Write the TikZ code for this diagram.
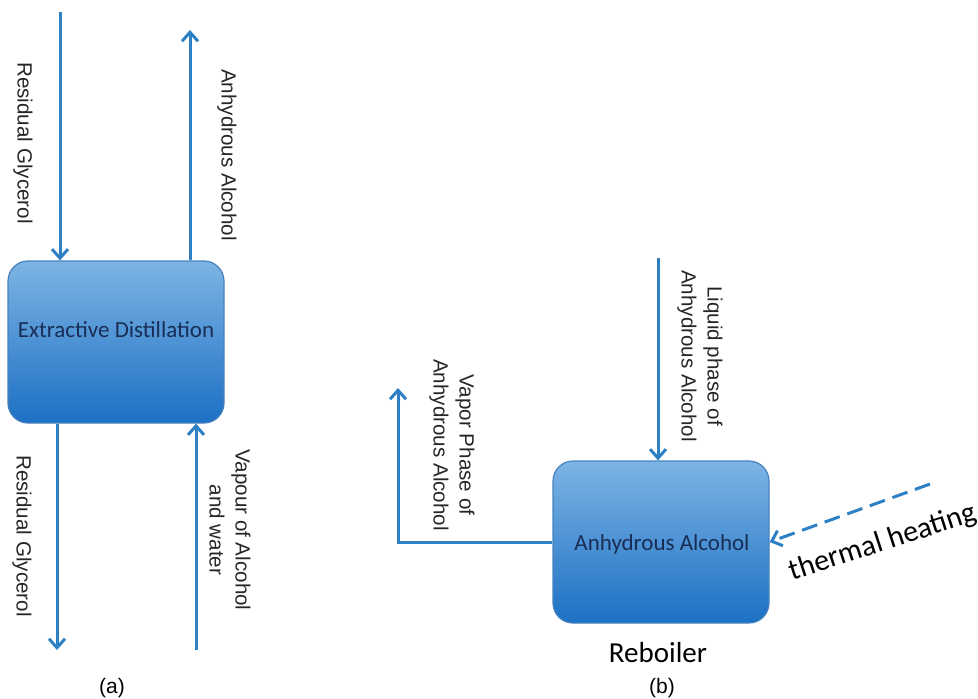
\documentclass[tikz,border=0pt]{standalone}
\usepackage{fontspec}
\setmainfont{Liberation Sans}
\newfontfamily\calibri{Carlito}
\usetikzlibrary{arrows.meta}
\definecolor{flujo}{RGB}{46,128,196}
\definecolor{cajaarriba}{RGB}{125,180,228}
\definecolor{cajaabajo}{RGB}{28,112,196}
\definecolor{cajaborde}{RGB}{70,130,190}
\definecolor{textocaja}{RGB}{25,45,85}

\begin{document}
\begin{tikzpicture}[x=0.5pt,y=-0.5pt,line width=1.5pt,>={Straight Barb[length=4.5pt,width=8pt]},
  caja/.style={rounded corners=10pt,draw=cajaborde,line width=0.6pt,top color=cajaarriba,bottom color=cajaabajo,minimum width=108pt,minimum height=81pt},
  cajatexto/.style={font=\calibri\fontsize{11.5}{14}\selectfont,text=textocaja},
  flecha/.style={->,draw=flujo},
  rotulo/.style={rotate=-90,align=center,text=black!85,font=\fontsize{10.3}{13}\selectfont}]
  \useasboundingbox (0,0) rectangle (978,698);
  % (a) destilacion extractiva
  \node[caja] (dest) at (116,342) {};
  \node[cajatexto] (destt) at (116,330) {Extractive Distillation};
  \coordinate (a1) at (60,12); \coordinate (a2) at (190,30);
  \coordinate (a3) at (57,650); \coordinate (a4) at (196,650);
  \draw[flecha] (a1) -- (a1 |- dest.north);
  \draw[flecha] (a2 |- dest.north) -- (a2);
  \draw[flecha] (a3 |- dest.south) -- (a3);
  \draw[flecha] (a4) -- (a4 |- dest.south);
  \node[rotulo] (l1) at (23,143) {Residual Glycerol};
  \node[rotulo] (l2) at (227,155) {Anhydrous Alcohol};
  \node[rotulo] (l3) at (22,536) {Residual Glycerol};
  \node[rotulo] (l4) at (230,530) {Vapour of Alcohol\\and water};
  \node[font=\fontsize{10.5}{12}\selectfont] (ca) at (112,688) {(a)};
  % (b) rehervidor
  \node[caja] (rebo) at (661,542) {};
  \node[cajatexto] (rebot) at (662,544) {Anhydrous Alcohol};
  \coordinate (b1) at (658,258); \coordinate (b2) at (398,388); \coordinate (b3) at (930,484);
  \draw[flecha] (b1) -- (b1 |- rebo.north);
  \draw[flecha] (rebo.west) -| (b2);
  \draw[flecha,dashed,dash pattern=on 8pt off 4pt] (b3) -- (rebo.east);
  \node[rotulo] (l5) at (700,356) {Liquid phase of\\Anhydrous Alcohol};
  \node[rotulo] (l6) at (452,445) {Vapor Phase of\\Anhydrous Alcohol};
  \node[font=\calibri\fontsize{15}{17}\selectfont,rotate=18,inner sep=1pt] (l7) at (883,543) {thermal heating};
  \node[font=\calibri\fontsize{14.5}{17}\selectfont] (reb) at (658,653) {Reboiler};
  \node[font=\fontsize{10.5}{12}\selectfont] (cb) at (662,688) {(b)};
\end{tikzpicture}
\end{document}
